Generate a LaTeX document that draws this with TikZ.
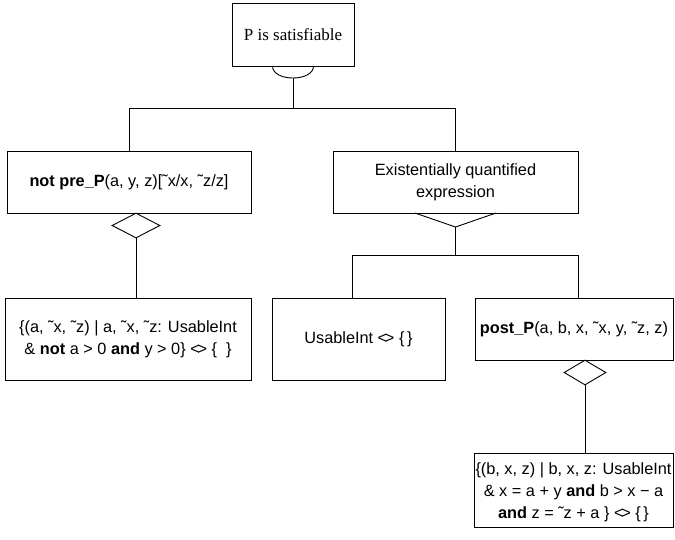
\documentclass[tikz,border=0pt]{standalone}
\usepackage{fontspec}
\usetikzlibrary{shapes.geometric}
\setmainfont{Liberation Serif}
\newfontfamily\labfont{Liberation Sans}
\newcommand{\lab}{\labfont\fontsize{16.3}{22}\selectfont}
\newcommand{\nq}{<\kern-.14em>}

\begin{document}
\begin{tikzpicture}
  [x=1pt,y=-1pt,line width=.9pt,
   box/.style={draw,rectangle,inner sep=0pt,align=center,font=\lab},
   gate/.style={draw,diamond,inner sep=0pt,minimum height=25pt}]
\useasboundingbox (0,0) rectangle (675,539);
  % goal and its two sub-goals
  \node[box,minimum width=122pt,minimum height=63pt,font=\fontsize{17}{20}\selectfont] (goal) at (293,34.5) {P is satisfiable};
  \node[box,minimum width=244pt,minimum height=62pt] (pre) at (129,182) {\textbf{not pre\_P}(a, y, z)[˜x/x, ˜z/z]};
  \node[box,minimum width=245pt,minimum height=62pt] (ex) at (455.5,182) {Existentially quantified\\expression};

  % leaves
  \node[box,minimum width=246pt,minimum height=82pt] (setl) at (128,339) {\{(a, ˜x, ˜z) | a, ˜x, ˜z: UsableInt\\\& \textbf{not} a > 0 \textbf{and} y > 0\} \nq\ \{\ \ \}};
  \node[box,minimum width=173pt,minimum height=82pt] (usable) at (358.5,339) {UsableInt \nq\ \{\,\}};
  \node[box,minimum width=198pt,minimum height=62pt] (post) at (574,329) {\textbf{post\_P}(a, b, x, ˜x, y, ˜z, z)};
  \node[box,minimum width=199pt,text height=65pt,text depth=9pt] (setr) at (573.5,490) {\{(b, x, z) | b, x, z: UsableInt\\\& x = a + y \textbf{and} b > x − a\\\textbf{and} z = ˜z + a \} \nq\ \{\,\}};

  % diamonds
  \node[gate,minimum width=48pt] (g1) at (136,225.5) {};
  \node[gate,minimum width=42pt] (g2) at (585,372.5) {};

  \coordinate (a1) at (272.5,66);
  \coordinate (a2) at (313.5,66);
  \coordinate (a3) at (293,78);
  \coordinate (j1) at (293,108);
  \coordinate (v1) at (415,213);
  \coordinate (v2) at (455.5,227);
  \coordinate (v3) at (496,213);
  \coordinate (j2) at (455.5,255);
  \coordinate (j2l) at (352,255);
  \coordinate (j2r) at (578,255);

  % and
  \draw (a1) .. controls +(0,16) and +(0,16) .. (a2);
  \draw (a3) -- (j1);
  \draw (j1) -| (pre);
  \draw (j1) -| (ex);

  % or
  \draw (v1) -- (v2) -- (v3);
  \draw (v2) -- (j2);
  \draw (j2l) -- (j2r);
  \foreach \from/\to in {j2l/usable, j2r/post}
    \draw (\from) -- (\from |- \to.north);

  \foreach \from/\to in {g1/setl, g2/setr}
    \draw (\from.south) -- (\from.south |- \to.north);
\end{tikzpicture}
\end{document}
